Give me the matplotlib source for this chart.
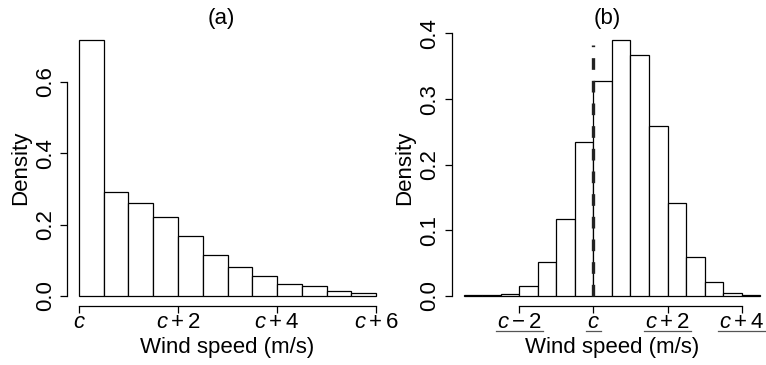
import matplotlib
matplotlib.use("Agg")
import matplotlib.pyplot as plt
import numpy as np
from matplotlib.lines import Line2D

plt.rcParams['font.family'] = ['Liberation Sans', 'DejaVu Sans']
plt.rcParams['mathtext.fontset'] = 'custom'
plt.rcParams['mathtext.rm'] = 'Liberation Sans'
plt.rcParams['mathtext.it'] = 'Liberation Sans:italic'
FS = 16
plt.rcParams['font.size'] = FS

# Panel (a): bins of width 0.5 starting at c (offset from c)
a_edges = [0.0, 0.5, 1.0, 1.5, 2.0, 2.5, 3.0, 3.5, 4.0, 4.5, 5.0, 5.5, 6.0]
a_density = [0.718, 0.293, 0.260, 0.222, 0.168, 0.116, 0.081, 0.056,
             0.033, 0.027, 0.013, 0.009]
a_ticks = [0, 2, 4, 6]
a_ticklabels = [r'$c$', r'$c+2$', r'$c+4$', r'$c+6$']
a_yticks = [0.0, 0.2, 0.4, 0.6]

# Panel (b)
b_edges = [-3.5, -3.0, -2.5, -2.0, -1.5, -1.0, -0.5, 0.0, 0.5, 1.0, 1.5,
           2.0, 2.5, 3.0, 3.5, 4.0, 4.5]
b_density = [0.001, 0.001, 0.003, 0.015, 0.052, 0.117, 0.235, 0.327,
             0.390, 0.367, 0.259, 0.141, 0.060, 0.021, 0.005, 0.0015]
b_ticks = [-2, 0, 2, 4]
b_ticklabels = [r'$c-2$', r'$c$', r'$c+2$', r'$c+4$']
b_yticks = [0.0, 0.1, 0.2, 0.3, 0.4]
b_vline_x = 0.0
b_vline_top = 0.383

fig = plt.figure(figsize=(7.66, 3.65), dpi=100)
ax1 = fig.add_axes([0.0876, 0.161, 0.4188, 0.7575])
ax2 = fig.add_axes([0.5896, 0.161, 0.4184, 0.7575])


def style(ax, edges, dens, xticks, xlabels, yticks, title, title_x):
    e = np.array(edges)
    d = np.array(dens)
    ax.bar(e[:-1], d, width=np.diff(e), align='edge', facecolor='white',
           edgecolor='black', linewidth=0.9)
    xr = e[-1] - e[0]
    ax.set_xlim(e[0] - 0.04 * xr, e[-1] + 0.04 * xr)
    ym = d.max()
    ax.set_ylim(-0.04 * ym, ym * 1.04)
    for s in ['top', 'right']:
        ax.spines[s].set_visible(False)
    ax.spines['left'].set_bounds(yticks[0], yticks[-1])
    ax.spines['bottom'].set_bounds(xticks[0], xticks[-1])
    ax.spines['left'].set_linewidth(0.9)
    ax.spines['bottom'].set_linewidth(0.9)
    ax.set_xticks(xticks)
    ax.set_xticklabels(xlabels)
    ax.set_yticks(yticks)
    ax.set_yticklabels([f'{v:.1f}' for v in yticks], rotation=90, va='center')
    ax.tick_params(axis='both', direction='out', length=5, width=0.9,
                   labelsize=FS, pad=3)
    ax.tick_params(axis='x', pad=-1)
    ax.set_xlabel('Wind speed (m/s)', fontsize=FS, labelpad=3)
    ax.set_ylabel('Density', fontsize=FS, labelpad=3)
    ax.set_title(title, fontsize=FS, x=title_x, pad=4)
    ax.patch.set_visible(False)


style(ax1, a_edges, a_density, a_ticks, a_ticklabels, a_yticks, '(a)', 0.48)
style(ax2, b_edges, b_density, b_ticks, b_ticklabels, b_yticks, '(b)', 0.485)

ax2.plot([b_vline_x, b_vline_x], [0, b_vline_top], color='#222222',
         linewidth=2.4, dashes=(3.5, 3.3), solid_capstyle='butt',
         dash_capstyle='butt')

# Underline panel (b) tick labels
fig.canvas.draw()
r = fig.canvas.get_renderer()
inv = fig.transFigure.inverted()
axis_y = ax2.transAxes.transform((0, 0))[1]
for lbl in ax2.get_xticklabels():
    bb = lbl.get_window_extent(renderer=r)
    y = axis_y - 24.5
    p0 = inv.transform((bb.x0 - 1, y))
    p1 = inv.transform((bb.x1 + 1, y))
    fig.add_artist(Line2D([p0[0], p1[0]], [p0[1], p1[1]],
                          transform=fig.transFigure, color='#555555',
                          linewidth=0.9))

fig.savefig('out.png', dpi=100)
